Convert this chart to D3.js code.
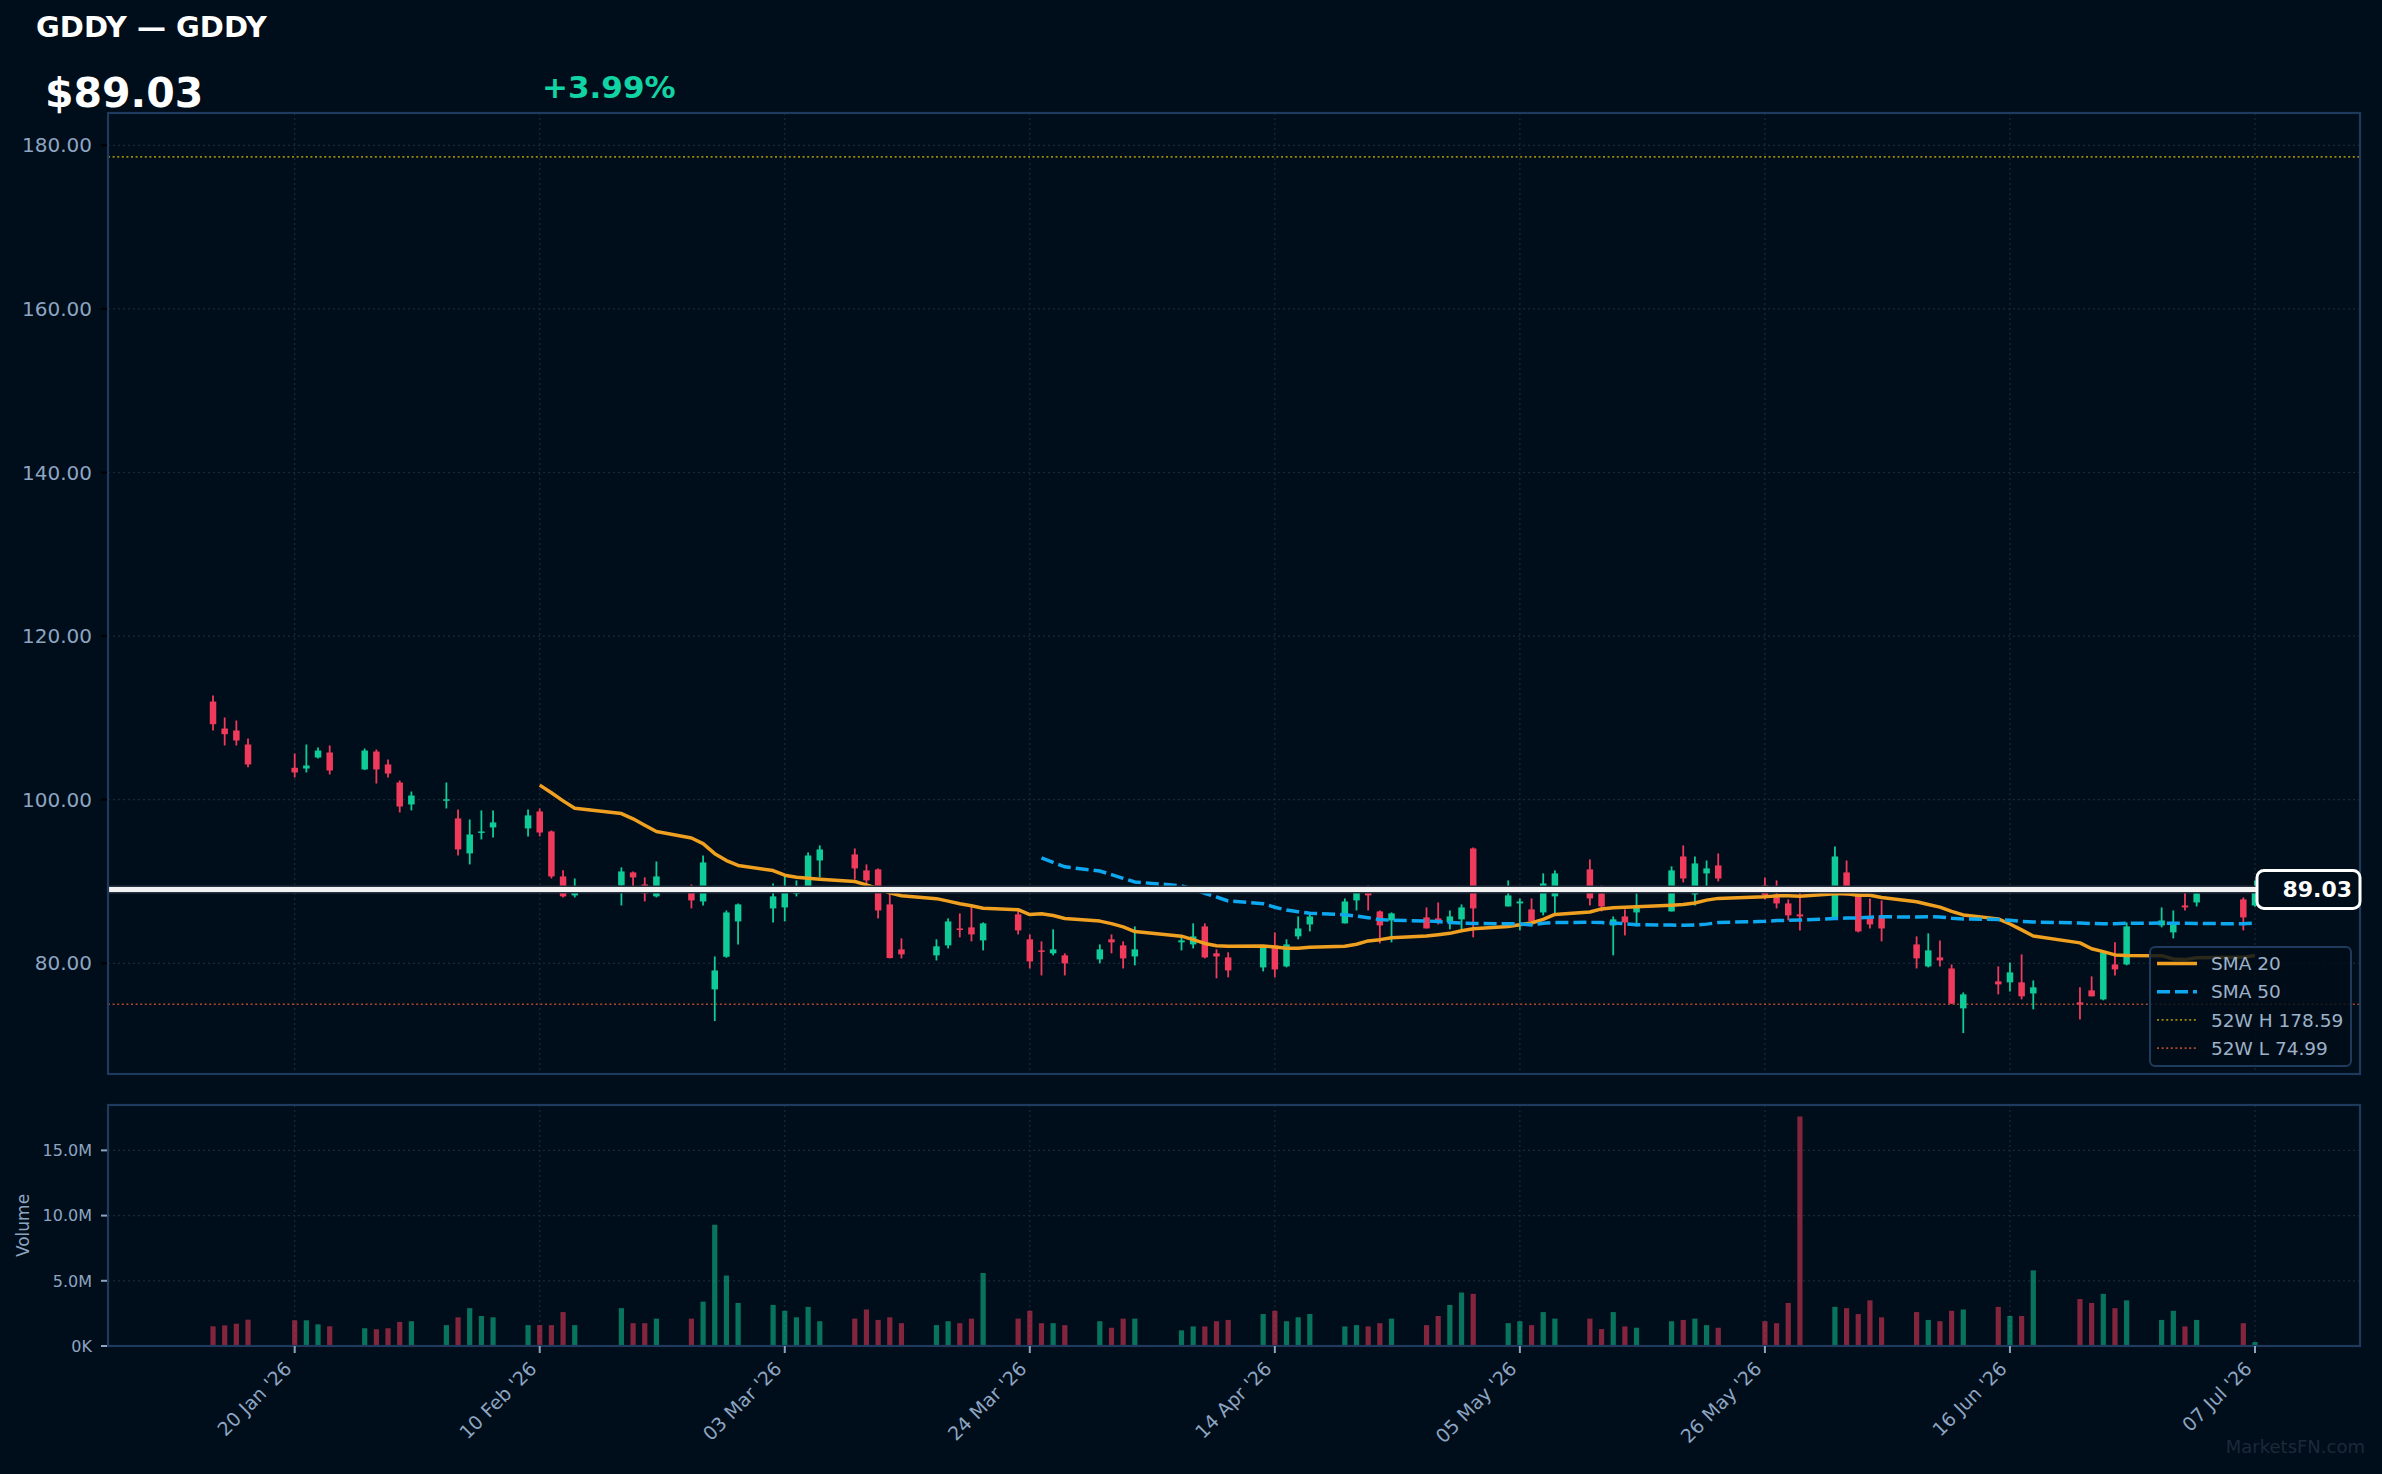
<!DOCTYPE html>
<html><head><meta charset="utf-8">
<script src="https://cdn.jsdelivr.net/npm/d3@7"></script>
<style>html,body{margin:0;padding:0;background:#000d1a;}svg{display:block}</style>
</head><body>
<svg id="c" width="2382" height="1474"></svg>
<script>
const dates = ["2026-01-13","2026-01-14","2026-01-15","2026-01-16","2026-01-20","2026-01-21","2026-01-22","2026-01-23","2026-01-26","2026-01-27","2026-01-28","2026-01-29","2026-01-30",
"2026-02-02","2026-02-03","2026-02-04","2026-02-05","2026-02-06","2026-02-09","2026-02-10","2026-02-11","2026-02-12","2026-02-13","2026-02-17","2026-02-18","2026-02-19","2026-02-20","2026-02-23","2026-02-24","2026-02-25","2026-02-26","2026-02-27",
"2026-03-02","2026-03-03","2026-03-04","2026-03-05","2026-03-06","2026-03-09","2026-03-10","2026-03-11","2026-03-12","2026-03-13","2026-03-16","2026-03-17","2026-03-18","2026-03-19","2026-03-20","2026-03-23","2026-03-24","2026-03-25","2026-03-26","2026-03-27","2026-03-30","2026-03-31",
"2026-04-01","2026-04-02","2026-04-06","2026-04-07","2026-04-08","2026-04-09","2026-04-10","2026-04-13","2026-04-14","2026-04-15","2026-04-16","2026-04-17","2026-04-20","2026-04-21","2026-04-22","2026-04-23","2026-04-24","2026-04-27","2026-04-28","2026-04-29","2026-04-30",
"2026-05-01","2026-05-04","2026-05-05","2026-05-06","2026-05-07","2026-05-08","2026-05-11","2026-05-12","2026-05-13","2026-05-14","2026-05-15","2026-05-18","2026-05-19","2026-05-20","2026-05-21","2026-05-22","2026-05-26","2026-05-27","2026-05-28","2026-05-29",
"2026-06-01","2026-06-02","2026-06-03","2026-06-04","2026-06-05","2026-06-08","2026-06-09","2026-06-10","2026-06-11","2026-06-12","2026-06-15","2026-06-16","2026-06-17","2026-06-18","2026-06-22","2026-06-23","2026-06-24","2026-06-25","2026-06-26","2026-06-29","2026-06-30",
"2026-07-01","2026-07-02","2026-07-06","2026-07-07"];
const opens = [112.00,108.70,108.46,106.75,103.90,103.81,105.16,105.77,103.70,105.89,104.31,102.10,99.42,
99.95,97.71,93.43,96.04,96.61,96.49,98.56,96.12,90.62,88.30,89.52,91.11,89.64,88.18,88.91,87.56,76.81,80.80,85.12,
86.71,86.83,88.50,89.28,92.57,93.31,91.36,91.48,87.20,81.70,80.97,82.19,84.26,84.39,82.80,85.98,82.93,81.58,81.22,80.97,80.48,82.93,
82.19,80.84,82.56,82.31,84.51,81.22,80.72,79.50,82.19,79.62,83.29,84.75,84.88,87.69,88.91,86.34,85.24,85.61,85.49,85.00,85.37,
94.04,86.95,87.32,86.59,86.22,88.18,91.48,88.54,84.63,85.73,86.22,86.34,93.06,88.42,90.99,91.96,89.52,88.42,87.32,85.98,
85.61,91.11,88.30,85.61,85.86,82.31,79.62,80.72,79.37,74.49,77.79,77.67,77.67,76.32,75.22,76.69,75.59,79.86,79.86,84.63,83.78,
87.07,87.44,87.81,87.07];
const highs = [112.74,110.05,109.68,107.48,105.65,106.75,106.38,106.63,106.26,106.14,104.92,102.35,101.00,
102.10,98.81,97.58,98.69,98.69,98.81,98.93,96.24,91.36,90.37,91.72,91.23,90.50,92.45,89.64,93.18,80.84,86.46,87.32,
89.76,90.73,90.13,93.55,94.41,94.04,92.09,91.60,88.58,83.05,82.93,85.49,86.10,86.95,85.00,86.46,83.53,82.68,84.15,81.22,82.31,83.53,
82.68,84.51,83.29,84.88,84.88,81.70,81.34,82.19,83.78,82.93,85.73,86.10,87.93,89.31,89.52,86.46,86.22,86.83,87.44,86.46,87.20,
94.16,90.13,87.93,87.93,90.99,91.36,92.70,89.52,85.73,86.59,88.54,91.85,94.41,93.06,92.57,93.43,90.50,90.13,87.81,88.79,
94.29,92.57,88.66,87.93,87.69,83.29,83.66,82.80,79.86,76.44,79.62,80.11,81.09,77.91,77.06,78.40,81.40,82.56,85.00,86.83,86.46,
88.66,88.90,88.05,90.13];
const lows = [108.46,106.63,106.63,103.98,102.72,103.33,105.04,103.08,103.62,101.98,102.72,98.44,98.69,
98.93,93.18,92.09,95.14,95.39,95.51,95.51,90.37,88.05,88.05,87.07,89.28,87.56,88.05,86.71,87.07,72.94,80.68,82.31,
85.00,85.12,88.18,89.10,90.50,90.25,89.20,85.49,80.60,80.60,80.35,81.82,83.17,82.68,81.58,83.53,79.37,78.52,80.97,78.52,79.99,81.22,
79.37,79.75,81.58,81.82,80.60,78.16,78.28,79.01,78.28,79.50,82.93,83.90,84.88,86.46,86.46,82.44,82.56,84.26,84.75,84.15,84.15,
83.17,86.95,84.02,84.63,85.86,86.10,87.07,86.34,80.97,83.41,84.51,86.34,89.89,87.07,89.28,90.01,87.81,86.71,85.24,84.02,
85.61,88.30,83.78,84.26,82.68,79.37,79.50,79.62,75.06,71.47,76.20,76.56,75.59,74.37,73.14,75.96,75.47,78.52,79.75,84.39,83.05,
86.46,86.95,84.02,86.90];
const closes = [109.23,108.01,107.24,104.31,103.33,104.18,106.01,103.57,106.01,103.70,103.20,99.17,100.51,
100.05,93.92,95.75,96.12,97.22,98.08,95.99,90.62,88.18,89.28,91.23,90.50,88.54,90.62,87.69,92.33,79.13,86.22,87.20,
88.18,88.66,88.70,93.18,93.92,91.60,90.13,86.46,80.64,81.09,82.07,85.12,84.07,83.53,84.88,84.02,80.23,81.46,81.70,79.99,81.70,82.56,
80.60,81.70,82.80,83.29,80.72,80.84,79.13,82.07,79.25,82.31,84.26,85.73,87.56,88.70,88.30,84.63,86.10,84.26,85.24,85.73,86.83,
86.71,88.30,87.56,85.12,89.76,90.99,87.93,86.95,85.37,85.00,87.07,91.36,90.37,92.21,91.60,90.37,88.30,87.32,85.86,85.73,
93.06,88.30,83.90,84.75,84.26,80.60,81.58,80.35,75.06,76.20,77.42,78.89,75.96,77.06,74.98,75.96,81.34,79.25,84.51,85.24,84.88,
86.83,88.54,85.61,89.03];
const volumesM = [1.51,1.58,1.71,2.02,1.97,1.97,1.66,1.51,1.36,1.28,1.36,1.85,1.9,
1.6,2.2,2.9,2.3,2.2,1.6,1.6,1.6,2.6,1.6,2.9,1.75,1.75,2.1,2.1,3.4,9.3,5.4,3.3,
3.15,2.7,2.2,3.0,1.9,2.1,2.8,2.0,2.2,1.75,1.6,1.9,1.75,2.1,5.6,2.1,2.7,1.75,1.75,1.6,1.9,1.4,
2.1,2.1,1.2,1.5,1.5,1.9,2.0,2.45,2.7,1.9,2.2,2.45,1.5,1.6,1.5,1.75,2.1,1.6,2.3,3.15,4.1,
4.0,1.75,1.9,1.6,2.6,2.1,2.1,1.3,2.6,1.5,1.4,1.9,2.0,2.1,1.6,1.4,1.9,1.75,3.3,17.6,
3.0,2.9,2.45,3.5,2.2,2.6,2.0,1.9,2.7,2.8,3.0,2.3,2.3,5.8,3.6,3.3,4.0,2.9,3.5,2.0,2.7,
1.5,2.0,1.75,0.3];
const priceTicks = [80,100,120,140,160,180];
const volumeTicks = [0,5e6,10e6,15e6];
const volumeTickLabels = ["0K","5.0M","10.0M","15.0M"];
const dateTicks = ["2026-01-20","2026-02-10","2026-03-03","2026-03-24","2026-04-14","2026-05-05","2026-05-26","2026-06-16","2026-07-07"];
const dateTickLabels = ["20 Jan '26","10 Feb '26","03 Mar '26","24 Mar '26","14 Apr '26","05 May '26","26 May '26","16 Jun '26","07 Jul '26"];
const high52 = 178.59, low52 = 74.99;
const lastPrice = 89.03, changePct = "+3.99%";
const ticker = "GDDY — GDDY";

const parse = d3.utcParse("%Y-%m-%d");
const data = dates.map((d,i)=>({date:parse(d),o:opens[i],h:highs[i],l:lows[i],c:closes[i],v:volumesM[i]*1e6}));
function sma(n){return data.map((d,i)=> i<n-1?null:{date:d.date,v:d3.mean(data.slice(i-n+1,i+1),e=>e.c)}).filter(e=>e);}
const sma20 = sma(20), sma50 = sma(50);

const W=2382,H=1474;
const L=108,R=2360,T=113,B=1074,VT=1105,VB=1346;
const FONT='"DejaVu Sans", sans-serif';
const UP="#0fcb98", DN="#f03a5c", AXC="#8ea5c1", GRID="#1a2838", BORDER="#1e3a5c", BG="#000d1a";

const svg=d3.select("#c");
svg.append("rect").attr("width",W).attr("height",H).attr("fill",BG);

const day=864e5;
const x=d3.scaleUtc().domain([new Date(+data[0].date-9*day), new Date(+data[data.length-1].date+9*day)]).range([L,R]);
const minLow=d3.min(data,d=>d.l);
const y=d3.scaleLinear().domain([minLow*0.93, high52*1.03]).range([B,T]);
const yv=d3.scaleLinear().domain([0,d3.max(data,d=>d.v)*1.05]).range([VB,VT]);

// headers
svg.append("text").attr("x",36).attr("y",37).attr("fill","#ffffff").attr("font-family",FONT).attr("font-weight","bold").attr("font-size",29).text(ticker);
svg.append("text").attr("x",45).attr("y",107).attr("fill","#ffffff").attr("font-family",FONT).attr("font-weight","bold").attr("font-size",41).text("$"+lastPrice.toFixed(2));
svg.append("text").attr("x",542).attr("y",98).attr("fill","#12d3a3").attr("font-family",FONT).attr("font-weight","bold").attr("font-size",31).text(changePct);

// clip
const defs=svg.append("defs");
defs.append("clipPath").attr("id","cm").append("rect").attr("x",L).attr("y",T).attr("width",R-L).attr("height",B-T);
defs.append("clipPath").attr("id","cv").append("rect").attr("x",L).attr("y",VT).attr("width",R-L).attr("height",VB-VT);

// grids
const g=svg.append("g");
priceTicks.forEach(t=>g.append("line").attr("x1",L).attr("x2",R).attr("y1",y(t)).attr("y2",y(t)).attr("stroke",GRID).attr("stroke-width",1.2).attr("stroke-dasharray","2,3"));
volumeTicks.slice(1).forEach(t=>g.append("line").attr("x1",L).attr("x2",R).attr("y1",yv(t)).attr("y2",yv(t)).attr("stroke",GRID).attr("stroke-width",1.2).attr("stroke-dasharray","2,3"));
dateTicks.forEach(t=>{const xx=x(parse(t));
 g.append("line").attr("x1",xx).attr("x2",xx).attr("y1",T).attr("y2",B).attr("stroke",GRID).attr("stroke-width",1.2).attr("stroke-dasharray","2,3");
 g.append("line").attr("x1",xx).attr("x2",xx).attr("y1",VT).attr("y2",VB).attr("stroke",GRID).attr("stroke-width",1.2).attr("stroke-dasharray","2,3");});

// 52w lines
const mg=svg.append("g").attr("clip-path","url(#cm)");
mg.append("line").attr("x1",L).attr("x2",R).attr("y1",y(high52)).attr("y2",y(high52)).attr("stroke","#9a8a08").attr("stroke-width",1.6).attr("stroke-dasharray","2,2.6");
mg.append("line").attr("x1",L).attr("x2",R).attr("y1",y(low52)).attr("y2",y(low52)).attr("stroke","#b04a2c").attr("stroke-width",1.6).attr("stroke-dasharray","2,2.6");

// candles
const bw=6.5;
const cg=mg.append("g");
cg.selectAll("line.w").data(data).join("line").attr("x1",d=>x(d.date)).attr("x2",d=>x(d.date)).attr("y1",d=>y(d.h)).attr("y2",d=>y(d.l)).attr("stroke",d=>d.c>=d.o?UP:DN).attr("stroke-width",1.8);
cg.selectAll("rect.b").data(data).join("rect").attr("x",d=>x(d.date)-bw/2).attr("width",bw).attr("y",d=>y(Math.max(d.o,d.c))).attr("height",d=>Math.max(1.5,Math.abs(y(d.o)-y(d.c)))).attr("fill",d=>d.c>=d.o?UP:DN);

// SMA lines
const ln=d3.line().x(d=>x(d.date)).y(d=>y(d.v));
mg.append("path").attr("d",ln(sma20)).attr("fill","none").attr("stroke","#f0a020").attr("stroke-width",3.5).attr("stroke-linejoin","round");
mg.append("path").attr("d",ln(sma50)).attr("fill","none").attr("stroke","#0ea8f0").attr("stroke-width",3.5).attr("stroke-dasharray","13,5");

// price line
mg.append("line").attr("x1",L).attr("x2",R).attr("y1",y(lastPrice)).attr("y2",y(lastPrice)).attr("stroke","#26323f").attr("stroke-width",8);
mg.append("line").attr("x1",L).attr("x2",R).attr("y1",y(lastPrice)).attr("y2",y(lastPrice)).attr("stroke","#f2f2f2").attr("stroke-width",5);

// volume
const vg=svg.append("g").attr("clip-path","url(#cv)");
vg.selectAll("rect").data(data).join("rect").attr("x",d=>x(d.date)-2.6).attr("width",5.2).attr("y",d=>yv(d.v)).attr("height",d=>yv(0)-yv(d.v)).attr("fill",d=>d.c>=d.o?UP:DN).attr("fill-opacity",0.55);

// borders
svg.append("rect").attr("x",L).attr("y",T).attr("width",R-L).attr("height",B-T).attr("fill","none").attr("stroke",BORDER).attr("stroke-width",2.2);
svg.append("rect").attr("x",L).attr("y",VT).attr("width",R-L).attr("height",VB-VT).attr("fill","none").attr("stroke",BORDER).attr("stroke-width",2.2);

// y axis main
priceTicks.forEach(t=>{
 svg.append("line").attr("x1",101).attr("x2",L-1).attr("y1",y(t)).attr("y2",y(t)).attr("stroke","#000").attr("stroke-width",2);
 svg.append("text").attr("x",92).attr("y",y(t)).attr("dy","0.36em").attr("text-anchor","end").attr("fill",AXC).attr("font-family",FONT).attr("font-size",20).text(t.toFixed(2));
});
volumeTicks.forEach((t,i)=>{
 svg.append("line").attr("x1",101).attr("x2",L-1).attr("y1",yv(t)).attr("y2",yv(t)).attr("stroke",AXC).attr("stroke-width",2);
 svg.append("text").attr("x",92).attr("y",yv(t)).attr("dy","0.36em").attr("text-anchor","end").attr("fill",AXC).attr("font-family",FONT).attr("font-size",16).text(volumeTickLabels[i]);
});
svg.append("text").attr("transform",`translate(29,${(VT+VB)/2}) rotate(-90)`).attr("text-anchor","middle").attr("fill",AXC).attr("font-family",FONT).attr("font-size",17).text("Volume");

// x axis
dateTicks.forEach((t,i)=>{const xx=x(parse(t));
 svg.append("line").attr("x1",xx).attr("x2",xx).attr("y1",VB).attr("y2",VB+7).attr("stroke",AXC).attr("stroke-width",2);
 svg.append("text").attr("transform",`translate(${xx-2},${VB+24}) rotate(-45)`).attr("text-anchor","end").attr("fill",AXC).attr("font-family",FONT).attr("font-size",19).text(dateTickLabels[i]);
});

// price label
const py=y(lastPrice);
svg.append("rect").attr("x",2257).attr("y",py-19).attr("width",103).attr("height",38).attr("rx",7).attr("fill",BG).attr("stroke","#ffffff").attr("stroke-width",3);
svg.append("text").attr("x",2352).attr("y",py).attr("dy","0.36em").attr("text-anchor","end").attr("fill","#ffffff").attr("font-family",FONT).attr("font-weight","bold").attr("font-size",22).text(lastPrice.toFixed(2));

// legend
const lg=svg.append("g");
lg.append("rect").attr("x",2150).attr("y",947).attr("width",201).attr("height",119).attr("rx",5).attr("fill",BG).attr("fill-opacity",0.82).attr("stroke",BORDER).attr("stroke-width",2);
const items=[{t:"SMA 20",c:"#f0a020",w:3.5,d:null},{t:"SMA 50",c:"#0ea8f0",w:3.5,d:"13,5"},{t:"52W H "+high52.toFixed(2),c:"#9a8a08",w:1.6,d:"2,2.6"},{t:"52W L "+low52.toFixed(2),c:"#b04a2c",w:1.6,d:"2,2.6"}];
items.forEach((it,i)=>{const yy=963.5+i*28.2;
 const l=lg.append("line").attr("x1",2157).attr("x2",2197).attr("y1",yy).attr("y2",yy).attr("stroke",it.c).attr("stroke-width",it.w);
 if(it.d) l.attr("stroke-dasharray",it.d);
 lg.append("text").attr("x",2211).attr("y",yy).attr("dy","0.36em").attr("fill","#9db1c8").attr("font-family",FONT).attr("font-size",18.5).text(it.t);
});

// watermark
svg.append("text").attr("x",2365).attr("y",1453).attr("text-anchor","end").attr("fill","#1b2a3b").attr("font-family",FONT).attr("font-size",18).text("MarketsFN.com");
</script>
</body></html>
